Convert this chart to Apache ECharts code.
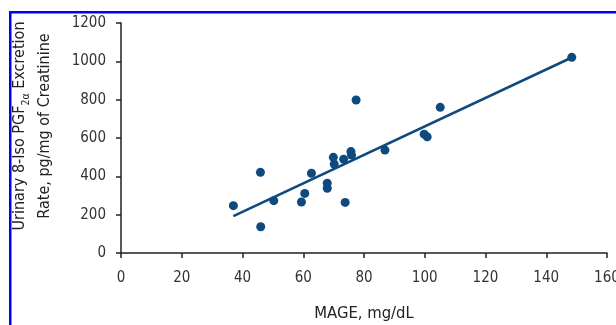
<!DOCTYPE html>
<html><head><meta charset="utf-8">
<script src="https://cdn.jsdelivr.net/npm/echarts@6/dist/echarts.min.js"></script>
<style>html,body{margin:0;padding:0;background:#fff}#c{width:616px;height:325px}</style>
</head><body><div id="c"></div>
<script>
const mageValues = [37.0, 45.9, 46.0, 50.3, 59.4, 60.5, 62.7, 67.9, 67.9, 69.9, 70.2, 73.3, 73.8, 75.7, 75.9, 77.4, 86.9, 99.8, 100.8, 105.1, 148.4];
const isoValues  = [247, 421, 137, 273, 266, 311, 416, 364, 338, 499, 464, 489, 264, 529, 511, 798, 537, 620, 606, 760, 1021];
const fitX = [37.0, 148.4];
const fitY = [193, 1020];
const xTicks = [0, 20, 40, 60, 80, 100, 120, 140, 160];
const yTicks = [0, 200, 400, 600, 800, 1000, 1200];

const FONT = '"DejaVu Sans Condensed","Liberation Sans Narrow","Roboto",sans-serif';
const COLOR = '#0f4a7f';

const chart = echarts.init(document.getElementById('c'), null, {renderer: 'canvas'});
chart.setOption({
  animation: false,
  backgroundColor: '#fff',
  grid: {left: 121, top: 23, right: 9, bottom: 72, containLabel: false, outerBoundsMode: 'none'},
  xAxis: {
    type: 'value', min: xTicks[0], max: xTicks[xTicks.length - 1], interval: 20,
    name: 'MAGE, mg/dL', nameLocation: 'middle', nameGap: 52,
    nameTextStyle: {fontFamily: FONT, fontSize: 16.5, color: '#222'},
    axisLine: {show: true, onZero: false, lineStyle: {color: '#222', width: 1.5}},
    axisTick: {show: true, length: 5, inside: false, lineStyle: {color: '#222', width: 1.5}},
    axisLabel: {fontFamily: FONT, fontSize: 15, color: '#333', margin: 18, formatter: v => String(v)},
    splitLine: {show: false}
  },
  yAxis: {
    type: 'value', min: yTicks[0], max: yTicks[yTicks.length - 1], interval: 200,
    name: '{t|Urinary 8-Iso PGF}{s|2α}{t| Excretion}\n{t|Rate, pg/mg of Creatinine}',
    nameLocation: 'middle', nameGap: 64, nameRotate: 90,
    nameTextStyle: {
      fontFamily: FONT, color: '#222', fontSize: 16, lineHeight: 25,
      padding: [0, 0, 0, 24],
      rich: {
        t: {fontFamily: FONT, fontSize: 16, color: '#222', lineHeight: 25},
        s: {fontFamily: FONT, fontSize: 10.5, color: '#222', verticalAlign: 'bottom', padding: [6, 0, 0, 0], lineHeight: 25}
      }
    },
    axisLine: {show: true, onZero: false, lineStyle: {color: '#222', width: 1.5}},
    axisTick: {show: true, length: 5, lineStyle: {color: '#222', width: 1.5}},
    axisLabel: {fontFamily: FONT, fontSize: 15, color: '#333', margin: 15, formatter: v => String(v)},
    splitLine: {show: false}
  },
  series: [
    {
      type: 'line', data: fitX.map((x, i) => [x, fitY[i]]),
      showSymbol: false, symbol: 'none', z: 2,
      lineStyle: {color: COLOR, width: 2.5}
    },
    {
      type: 'scatter', data: mageValues.map((x, i) => [x, isoValues[i]]),
      symbol: 'circle', symbolSize: 9, z: 3,
      itemStyle: {color: COLOR, opacity: 1}
    }
  ],
  graphic: [
    {type: 'rect', shape: {x: 9, y: 11, width: 620, height: 2.5}, style: {fill: '#0000ff'}, z: 100},
    {type: 'rect', shape: {x: 9, y: 11, width: 2.5, height: 330}, style: {fill: '#0000ff'}, z: 100}
  ]
});
</script></body></html>
